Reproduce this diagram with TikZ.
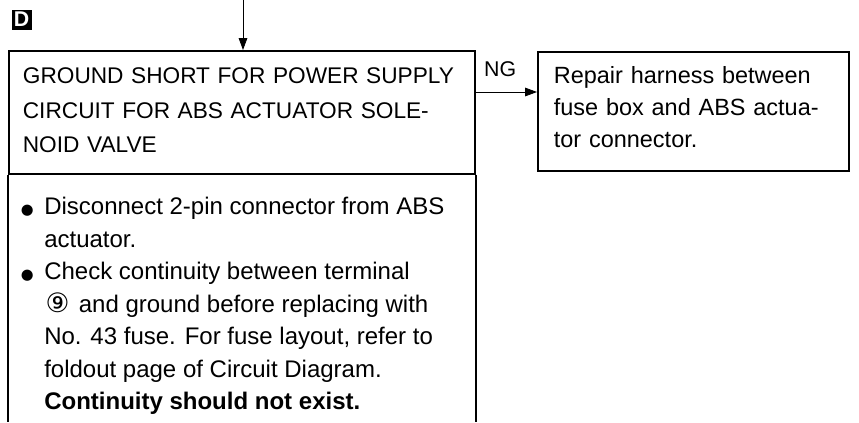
\documentclass[tikz,border=0pt]{standalone}
\usepackage{fontspec}
\setmainfont{Liberation Sans}
\newfontfamily\symfont{DejaVu Sans}
\usetikzlibrary{arrows.meta,positioning}
\tikzset{
  frame/.style={draw=black, line width=1.3pt, align=left, anchor=north west},
  headbox/.style={frame, inner xsep=10.5pt, text width=328.5pt, minimum height=92.25pt,
    font=\fontsize{17}{26}\selectfont},
  repairbox/.style={frame, inner xsep=12pt, text width=209.25pt, minimum height=89.25pt,
    font=\fontsize{17.6}{24}\selectfont},
  checktext/.style={align=left, anchor=north west, inner sep=0pt,
    font=\fontsize{18}{24.4}\selectfont},
  side/.style={draw=black, line width=1.3pt},
  arr/.style={-{Triangle[length=9pt,width=6.5pt]}, line width=0.6pt},
  tag/.style={fill=black, text=white, inner sep=0pt, minimum size=15pt,
    font=\bfseries\fontsize{16}{16}\selectfont}
}
\newcommand{\blt}{\llap{{\symfont\fontsize{11}{11}\selectfont ●}\hspace{8pt}}}

\begin{document}
\begin{tikzpicture}[x=0.75pt, y=-0.75pt]
  \useasboundingbox (0,0) rectangle (859,422);

  \node[tag] (dtag) at (21.5,19.5) {D};

  \node[headbox] (ground) at (8,50) {GROUND SHORT FOR POWER SUPPLY\\
    CIRCUIT FOR ABS ACTUATOR SOLE-\\NOID VALVE\\[-23pt]\mbox{}};
  \node[repairbox] (repair) at (537,51) {Repair harness between\\
    fuse box and ABS actua-\\tor connector.\\[-17pt]\mbox{}};

  \node[checktext] (checks) at (44,197) {\blt Disconnect 2-pin connector from ABS\\
    actuator.\\
    \blt Check continuity between terminal\\
    \hspace{1pt}{\symfont\fontsize{20}{20}\selectfont ⑨}\hspace{2pt} and ground before replacing with\\
    No. 43 fuse. For fuse layout, refer to\\
    foldout page of Circuit Diagram.\\
    \textbf{Continuity should not exist.}};

  \coordinate (bottom) at (0,422);
  \draw[side] (ground.south west) -- (ground.south west |- bottom);
  \draw[side] (ground.south east) -- (ground.south east |- bottom);

  \coordinate (entry) at (243,0);
  \draw[arr] (entry) -- (entry |- ground.north);

  \coordinate (ngstart) at ([yshift=-31.5pt]ground.north east);
  \draw[arr] (ngstart) -- node[above=8pt, pos=0.4, font=\fontsize{16}{16}\selectfont] {NG}
    (ngstart -| repair.west);
\end{tikzpicture}
\end{document}
